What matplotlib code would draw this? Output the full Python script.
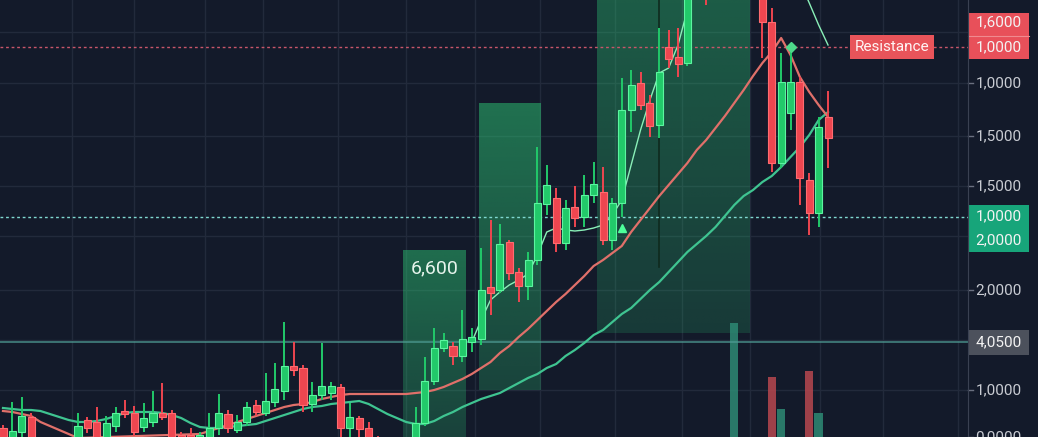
import numpy as np
import matplotlib
matplotlib.use("Agg")
import matplotlib.pyplot as plt
from matplotlib.patches import Rectangle
import matplotlib.transforms as mtransforms

plt.rcParams['font.family'] = ['Roboto', 'DejaVu Sans']

# candles: open / high / low / close (arbitrary price units)
opens = [9, -8, 5, 20, -11, -21, -15, -23, -8, 17, 15, 0, 11, 26, 24, 10, 15, 24, 24, 2,
         2, -5, 0, 9, 23, 7, 15, 32, 24, 35, 46, 71, 69, 33, 42, 44, 50, 9, 19, 9,
         -3, -15, -10, -21, -8, 14, 56, 89, 91, 81, 95, 98, 150, 147, 195, 165, 151, 177, 233, 239,
         194, 230, 220, 242, 245, 197, 234, 327, 354, 334, 312, 390, 380, 374, 457, 477, 452, 497, 487, 497,
         467, 447, 415, 274, 324, 355, 257, 224, 320]
highs = [12, 35, 40, 24, -7, -9, -11, -7, 24, 20, 30, 21, 30, 37, 31, 34, 46, 54, 27, 5,
         9, 5, 24, 43, 27, 22, 35, 37, 64, 74, 115, 95, 72, 55, 94, 55, 53, 34, 21, 15,
         1, -3, -6, -7, 30, 80, 109, 104, 95, 127, 109, 189, 217, 213, 197, 169, 185, 290, 272, 249,
         237, 251, 262, 275, 270, 239, 359, 367, 365, 342, 409, 407, 409, 467, 497, 492, 507, 537, 532, 507,
         477, 457, 429, 384, 394, 360, 264, 320, 346]
lows = [-13, -13, -3, -13, -25, -25, -29, -26, -13, 4, -9, -5, 5, 19, 1, 5, 10, 17, -7, -13,
        -10, -9, -3, 2, 4, 4, 11, 21, 21, 30, 37, 61, 25, 25, 37, 37, 0, 0, 0, -8,
        -19, -21, -25, -25, -13, 11, 52, 85, 72, 75, 85, 92, 122, 144, 157, 135, 137, 172, 222, 185,
        187, 210, 210, 234, 192, 187, 220, 305, 327, 300, 299, 369, 360, 371, 447, 432, 445, 487, 480, 457,
        442, 379, 265, 269, 307, 232, 202, 210, 269]
closes = [-8, 6, 21, -8, -21, -13, -25, -11, 11, 9, -5, 14, 24, 23, 5, 19, 24, 20, -3, -8,
          -5, 2, 9, 24, 9, 15, 30, 25, 36, 48, 71, 67, 32, 42, 51, 51, 9, 20, 8, -3,
          -15, -9, -21, -10, 14, 56, 89, 97, 81, 98, 100, 147, 144, 193, 164, 151, 177, 234, 252, 194,
          229, 219, 242, 253, 197, 234, 327, 352, 332, 311, 365, 378, 373, 457, 487, 452, 497, 527, 522, 467,
          447, 415, 274, 355, 355, 259, 224, 310, 299]

# moving averages
ma_red = [26, 25, 23, 21, 15, 11, 7, 3, -1, -5, -8, -10, -11, -12, -12, -12, -11, -10, -8, -5,
          -1, 3, 6, 9, 12, 15, 18, 21, 24, 27, 30, 32, 33, 35, 38, 40, 42, 43, 43, 43,
          43, 43, 43, 43, 44, 45, 47, 50, 54, 58, 63, 69, 75, 84, 91, 100, 108, 117, 126, 135,
          143, 152, 161, 171, 177, 184, 191, 205, 217, 229, 241, 252, 263, 274, 287, 297, 309, 321, 334, 347,
          361, 374, 385, 399, 382, 360, 345, 332, 320]
ma_teal = [29, 28, 27, 27, 26, 23, 20, 17, 15, 15, 16, 18, 21, 24, 25, 25, 25, 24, 22, 19,
           14, 10, 9, 9, 10, 11, 12, 13, 16, 19, 22, 25, 28, 30, 31, 33, 34, 35, 36, 33,
           28, 23, 19, 15, 13, 13, 16, 21, 25, 30, 34, 38, 41, 44, 49, 54, 59, 63, 69, 73,
           81, 87, 94, 102, 107, 115, 123, 129, 138, 147, 155, 165, 175, 185, 193, 201, 210, 221, 232, 241,
           247, 255, 261, 270, 280, 290, 302, 317, 325]
fast_start = 50
ma_fast = [95, 117, 137, 145, 152, 157, 163, 182, 205, 209, 207, 206, 207, 209, 212, 222, 237, 272, 307, 337,
           364, 369, 392, 427, 467, 477, 477, 477, 477, 477, 477, 477, 477, 477, 477, 455, 434, 412, 392]

# volume (only recent bars visible)
vol_idx = [78, 82, 83, 86, 87]
vol_val = [114, 60, 28, 66, 24]
vol_up = [True, False, True, False, True]

# zones (x0, x1, y0, y1, strength), levels, markers
zones = [(42.7, 49.4, 0, 187, 0.55), (50.8, 57.4, 47, 334, 0.58), (63.4, 79.7, 104, 437, 0.44)]
zone_label = "6,600"
resistance = 390
support = 220
level_line = 95
buy_marks = [(66, 209)]
diamond_marks = [(84, 390)]

tick_vals = [415, 390, 354, 301, 251, 221, 197, 147, 95, 47, 0]
tick_labels = ["1,6000", "1,0000", "1,0000", "1,5000", "1,5000", "1,0000", "2,0000",
               "2,0000", "4,0500", "1,0000", "0,0000"]

BG = '#131a2a'
GREEN = '#22c96a'
GREEN_EDGE = '#5cf5a0'
RED = '#ee4650'

fig = plt.figure(figsize=(10.38, 4.37), dpi=100, facecolor=BG)
ax = fig.add_axes([0, 0, 968 / 1038, 1])
ax.set_facecolor(BG)

# grid
for gx in [7.36, 13.97, 21.55, 27.73, 35.73, 42.99, 50.3, 57.28, 65.28, 72.43, 79.68, 87.15, 93.87, 101.87]:
    ax.axvline(gx, color='#222a3b', lw=1, zorder=0)
for gy in [405, 354, 301, 251, 201, 147, 97, 47]:
    ax.axhline(gy, color='#222a3b', lw=1, zorder=0)

# shaded zones, brighter at the top
zone_rgb = np.array([47, 210, 122]) / 255.0
for x0, x1, y0, y1, a in zones:
    n = 64
    grad = np.zeros((n, 2, 4))
    grad[:, :, :3] = zone_rgb
    grad[:, :, 3] = np.linspace(a * 0.4, a * 0.82, n)[:, None]
    ax.imshow(grad, extent=(x0, x1, y0, y1), origin='lower', aspect='auto',
              interpolation='bilinear', zorder=1)
ax.axvline(70.0, ymin=170 / 437, ymax=1, color='#0f2a1e', lw=1.2, zorder=1.2)
ax.text((zones[0][0] + zones[0][1]) / 2, 169, zone_label, color='#e6f4ec', fontsize=14,
        ha='center', va='center', zorder=6)

# volume
vcol = ['#2d8a74' if u else '#b8474f' for u in vol_up]
ax.bar(vol_idx, vol_val, width=0.9, color=vcol, alpha=0.85, zorder=1.5)

# levels
ax.axhline(resistance, color='#c8566a', lw=1, ls=(0, (2, 2)), zorder=2)
ax.axhline(support, color='#7fd8d0', lw=1, ls=(0, (2, 2)), zorder=2)
ax.axhline(level_line, color='#4f9c94', lw=1.2, alpha=0.8, zorder=2)

# moving averages
idx = np.arange(len(opens))
ax.plot(idx, ma_teal, color='#3fc491', lw=1.6, zorder=3)
ax.plot(idx, ma_red, color='#e0706a', lw=1.6, zorder=3)
ax.plot(np.arange(fast_start, fast_start + len(ma_fast)), ma_fast, color='#8af0b8', lw=1.0, zorder=4)

# candles
o = np.array(opens, float)
c = np.array(closes, float)
h = np.array(highs, float)
l = np.array(lows, float)
up = c >= o
cols = np.where(up, GREEN, RED)
edges = np.where(up, GREEN_EDGE, '#ff6b70')
ax.vlines(idx, l, h, colors=cols, lw=1.4, zorder=4)
bottom = np.minimum(o, c)
height = np.maximum(np.abs(c - o), 2)
ax.bar(idx, height, bottom=bottom, width=0.75, color=cols, edgecolor=edges, lw=0.8, zorder=5)

# markers
for mx, my in buy_marks:
    ax.plot(mx, my, marker='^', color='#4dff9a', ms=6, zorder=6)
for mx, my in diamond_marks:
    ax.plot(mx, my, marker='D', color='#4dd98a', ms=5, zorder=6)

# resistance label
ax.text(94.8, resistance, "Resistance", color='#fff5f5', fontsize=11, ha='center', va='center',
        bbox=dict(boxstyle='square,pad=0.3', fc='#e8545a', ec='none'), zorder=7)

ax.set_xlim(-0.32, 102.93)
ax.set_ylim(0, 437)

# right axis labels
trans = mtransforms.blended_transform_factory(ax.transAxes, ax.transData)
ax.add_patch(Rectangle((1.0, 378), 0.063, 46, transform=trans, clip_on=False, fc='#e8505a', ec='none'))
ax.add_patch(Rectangle((1.0, 185), 0.063, 47, transform=trans, clip_on=False, fc='#17a57a', ec='none'))
ax.add_patch(Rectangle((1.0, 82), 0.063, 25, transform=trans, clip_on=False, fc='#4c515c', ec='none'))
ax.plot([1.0, 1.063], [401, 401], transform=trans, clip_on=False, color='#f08a90', lw=0.8)
boxed = {415, 390, 221, 197, 95}
for v, lab in zip(tick_vals, tick_labels):
    col = '#f3f3f3' if v in boxed else '#c9ccd3'
    ax.text(1.0075, v, lab, transform=trans, color=col, fontsize=11, ha='left', va='center',
            clip_on=False, zorder=8)
    if v not in boxed:
        ax.plot([1.0, 1.005], [v, v], transform=trans, clip_on=False, color='#6a7080', lw=1)

for s in ['top', 'bottom', 'left']:
    ax.spines[s].set_visible(False)
ax.spines['right'].set_color('#3a4152')
ax.set_xticks([])
ax.set_yticks([])

fig.savefig('out.png', dpi=100, facecolor=BG)
